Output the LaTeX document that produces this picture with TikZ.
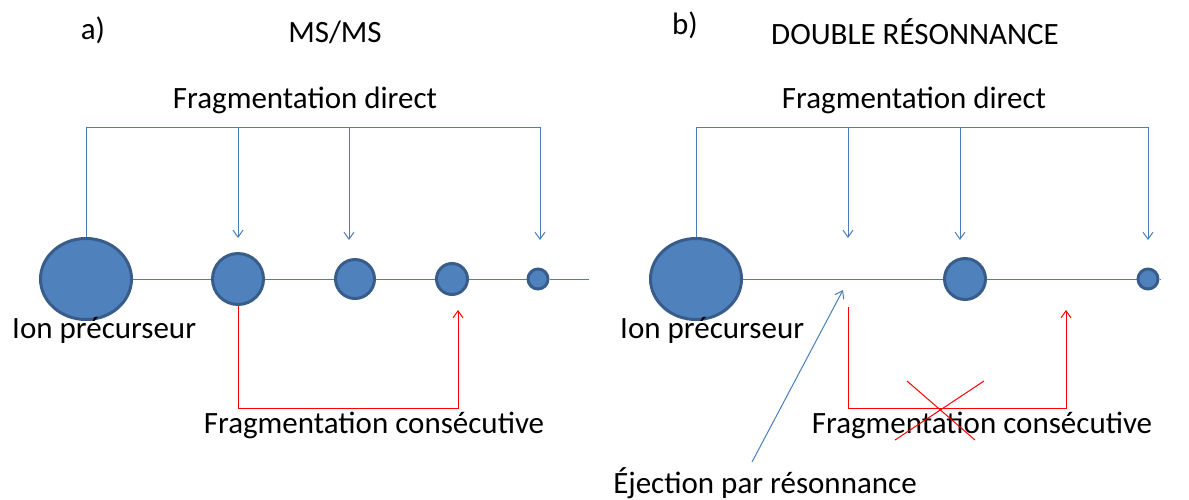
\documentclass[tikz,border=0pt]{standalone}
\usepackage{fontspec}
\setmainfont{Carlito}
\usetikzlibrary{arrows.meta, positioning, shapes.geometric}
\definecolor{ionfill}{HTML}{4F81BD}
\definecolor{ionedge}{HTML}{385D8A}
\definecolor{lineblue}{HTML}{4A7EBB}

\begin{document}
\begin{tikzpicture}[
    x=1pt, y=-1pt,
    precursor/.style={ellipse, draw=ionedge, fill=ionfill, line width=3pt, inner sep=0pt, minimum width=91pt, minimum height=81pt},
    ion/.style={circle, draw=ionedge, fill=ionfill, line width=3pt, inner sep=0pt},
    link/.style={lineblue, line width=1pt},
    arrow/.style={-{Straight Barb[length=7pt, width=10pt]}, lineblue, line width=1pt},
    redarrow/.style={-{Straight Barb[length=7pt, width=10pt]}, red, line width=1pt},
    label/.style={font=\fontsize{31}{36}\selectfont, inner sep=0pt}
]
\useasboundingbox (0,0) rectangle (1189,499);

% MS/MS side
\node[label] (tagA) at (93,30) {a)};
\node[label] (titleA) at (335,32) {MS/MS};
\node[precursor] (precA) at (86,279) {};
\node[ion, minimum size=51pt] (ionA1) at (238,279) {};
\node[ion, minimum size=39pt] (ionA2) at (355,279) {};
\node[ion, minimum size=31pt] (ionA3) at (452,279) {};
\node[ion, minimum size=20pt] (ionA4) at (538,279) {};
\coordinate (endA) at (589,279);
\draw[link] (precA) -- (ionA1) -- (ionA2) -- (ionA3) -- (ionA4) -- (endA);
\node[label, anchor=west] (ionlabelA) at (12,330) {Ion précurseur};

% direct fragments
\node[label] (directA) at (305,100) {Fragmentation direct};
\coordinate (cornerA) at (86,127);
\coordinate (cornerA2) at (540,127);
\draw[link] (precA.north) -- (cornerA) -- (cornerA2);
\draw[arrow] (238,127) -- (238,238);
\draw[arrow] (349,127) -- (349,240);
\draw[arrow] (cornerA2) -- (540,240);

% consecutive fragments
\node[label] (consecA) at (374,425) {Fragmentation consécutive};
\coordinate (redA1) at (238,408);
\coordinate (redA2) at (458,408);
\coordinate (redtipA) at (458,310);
\draw[redarrow] (ionA1.south) -- (redA1) -- (redA2) -- (redtipA);

% double resonance side
\node[label] (tagB) at (685,25) {b)};
\node[label] (titleB) at (915,32) {DOUBLE RÉSONNANCE};
\node[precursor] (precB) at (696,279) {};
\node[ion, minimum size=41pt] (ionB1) at (965,279) {};
\node[ion, minimum size=20pt] (ionB2) at (1148,279) {};
\coordinate (endB) at (1160,279);
\draw[link] (precB) -- (ionB1) -- (ionB2) -- (endB);
\node[label, anchor=west] (ionlabelB) at (620,330) {Ion précurseur};

% direct fragments
\node[label] (directB) at (914,100) {Fragmentation direct};
\coordinate (cornerB) at (696,127);
\coordinate (cornerB2) at (1148,127);
\draw[link] (precB.north) -- (cornerB) -- (cornerB2);
\draw[arrow] (848,127) -- (848,238);
\draw[arrow] (960,127) -- (960,240);
\draw[arrow] (cornerB2) -- (1148,240);

% consecutive fragments (suppressed)
\node[label] (consecB) at (982,425) {Fragmentation consécutive};
\coordinate (redB0) at (848,307);
\coordinate (redB1) at (848,408);
\coordinate (redB2) at (1066,408);
\coordinate (redtipB) at (1066,310);
\draw[redarrow] (redB0) -- (redB1) -- (redB2) -- (redtipB);
\draw[red, line width=1pt] (907,381) -- (975,440);
\draw[red, line width=1pt] (984,381) -- (895,440);

% ejection
\node[label] (ejectB) at (765,483) {Éjection par résonnance};
\coordinate (ejecttail) at (752,462);
\coordinate (ejecttip) at (843,290);
\draw[arrow] (ejecttail) -- (ejecttip);
\end{tikzpicture}
\end{document}
